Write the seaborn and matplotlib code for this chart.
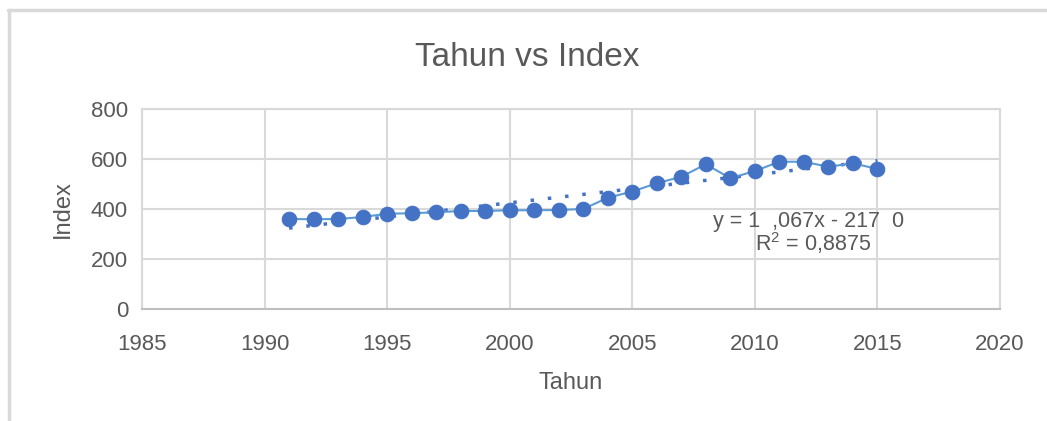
import matplotlib
matplotlib.use("Agg")
import matplotlib.pyplot as plt
import seaborn as sns
import pandas as pd
import numpy as np
from matplotlib.lines import Line2D

years = [1991, 1992, 1993, 1994, 1995, 1996, 1997, 1998, 1999, 2000, 2001, 2002, 2003,
         2004, 2005, 2006, 2007, 2008, 2009, 2010, 2011, 2012, 2013, 2014, 2015]
index_vals = [360, 359, 360, 368, 381, 383, 387, 392, 392, 395, 395, 396, 400,
              445, 470, 503, 529, 579, 523, 552, 589, 589, 569, 583, 560]
x_ticks = [1985, 1990, 1995, 2000, 2005, 2010, 2015, 2020]
y_ticks = [0, 200, 400, 600, 800]
title = "Tahun vs Index"
x_label = "Tahun"
y_label = "Index"
eq_text = "y = 1  ,067x - 217  0"
r2_text = "R$^2$ = 0,8875"

sns.set_theme(style="white")
fam = "Liberation Sans"
plt.rcParams['font.family'] = [fam, 'DejaVu Sans']
plt.rcParams['mathtext.fontset'] = 'custom'
plt.rcParams['mathtext.rm'] = fam

df = pd.DataFrame({"Tahun": years, "Index": index_vals})

fig = plt.figure(figsize=(10.47, 4.21), dpi=100)
ax = fig.add_axes([142/1047, 1 - 309/421, (1000-142)/1047, 200/421])

txt = "#595959"
grid_c = "#D9D9D9"

sns.regplot(data=df, x="Tahun", y="Index", ax=ax, scatter=False, ci=None,
            line_kws=dict(color="#4472C4", lw=2.5, linestyle=(0, (1, 4.0)),
                          dash_capstyle="butt", zorder=2))
sns.lineplot(data=df, x="Tahun", y="Index", ax=ax, color="#5B9BD5", lw=1.5,
             marker="o", markersize=10.5, markerfacecolor="#4472C4",
             markeredgecolor="#4472C4", zorder=3)

ax.set_xlim(1985, 2020)
ax.set_ylim(0, 800)
ax.set_xticks(x_ticks)
ax.set_yticks(y_ticks)
ax.grid(True, color=grid_c, lw=1.5)
ax.set_axisbelow(True)
for s in ["left", "top", "right"]:
    ax.spines[s].set_color(grid_c)
    ax.spines[s].set_linewidth(1.5)
ax.spines["bottom"].set_color("#BFBFBF")
ax.spines["bottom"].set_linewidth(1.5)
ax.tick_params(axis="y", length=0, labelsize=16, colors=txt, pad=10)
ax.tick_params(axis="x", length=0, labelsize=16, colors=txt, pad=18)
ax.set_xlabel(x_label, fontsize=17, color=txt, labelpad=12)
ax.set_ylabel(y_label, fontsize=17, color=txt, labelpad=12)
fig.text(527/1047, 1 - 57/421, title, fontsize=24, color=txt, ha="center", va="center")

ax.text(2008.3, 348, eq_text, fontsize=15.5, color=txt, ha="left", va="center")
ax.text(2010.0, 262, r2_text, fontsize=15.5, color=txt, ha="left", va="center")

fig.add_artist(Line2D([8/1047, 1], [1 - 10/421, 1 - 10/421], color=grid_c, lw=2.5,
                      transform=fig.transFigure))
fig.add_artist(Line2D([9/1047, 9/1047], [0, 1 - 10/421], color=grid_c, lw=2.5,
                      transform=fig.transFigure))

fig.savefig("out.png", dpi=100)
